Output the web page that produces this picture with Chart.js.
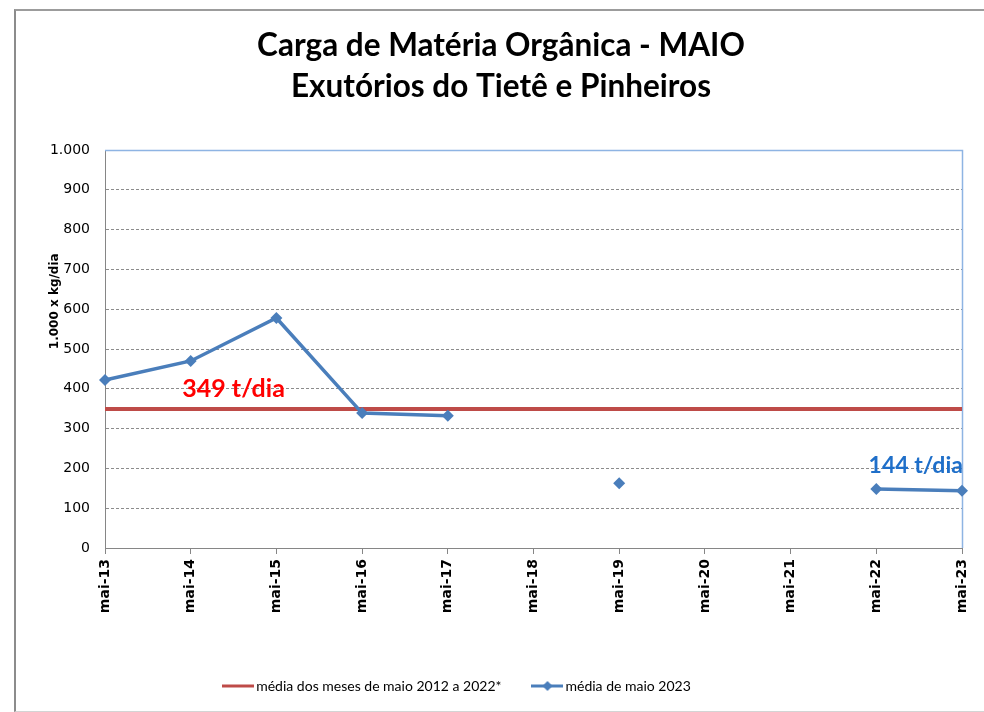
<!DOCTYPE html>
<html>
<head>
<meta charset="utf-8">
<script src="https://cdn.jsdelivr.net/npm/chart.js@4.4.0/dist/chart.umd.min.js"></script>
<style>
  body { margin: 0; background: #fff; }
  #frame { position: absolute; left: 14px; top: 9px; width: 970px; height: 703px; box-sizing: border-box;
    border-left: 2px solid #8c8c8c; border-top: 2px solid #9c9c9c; border-bottom: 1px solid #d4d4d4; }
  canvas { display: block; }
</style>
</head>
<body>
<div id="frame"><canvas id="myChart" width="968" height="700"></canvas></div>
<script>
// data
var categories = ['mai-13', 'mai-14', 'mai-15', 'mai-16', 'mai-17', 'mai-18', 'mai-19', 'mai-20', 'mai-21', 'mai-22', 'mai-23'];
var mediaHistorica = [349, 349, 349, 349, 349, 349, 349, 349, 349, 349, 349];
var media2023 = [422, 470, 578, 339, 332, null, 163, null, null, 148, 144];
var yTickLabels = ['0', '100', '200', '300', '400', '500', '600', '700', '800', '900', '1.000'];
var seriesNames = ['média dos meses de maio 2012 a 2022*', 'média de maio 2023'];
var titleLines = ['Carga de Matéria Orgânica - MAIO', 'Exutórios do Tietê e Pinheiros'];
var yTitle = '1.000 x kg/dia';

// text notes, placed through the scales (x in category index, y in axis units)
var notes = [
  { text: '349 t/dia', at: 1.5, value: 400, color: '#ff0000', size: 25 },
  { text: '144 t/dia', at: 9.46, value: 206, color: '#1f6fc9', size: 23 }
];

var RED = '#be4b48';
var BLUE = '#4a7ebb';

function legendIcon(color, diamond) {
  var c = document.createElement('canvas');
  c.width = 32; c.height = 12;
  var g = c.getContext('2d');
  g.strokeStyle = color;
  g.lineWidth = 3;
  g.beginPath(); g.moveTo(0, 6); g.lineTo(32, 6); g.stroke();
  if (diamond) {
    g.fillStyle = color;
    g.beginPath(); g.moveTo(16, 1); g.lineTo(21, 6); g.lineTo(16, 11); g.lineTo(11, 6); g.closePath(); g.fill();
  }
  return c;
}
var legendIcons = [legendIcon(RED, false), legendIcon(BLUE, true)];

var extras = {
  id: 'extras',
  afterLayout: function(chart) {
    // legend sits a bit left of centre, title a bit right
    chart.legend.left -= 30;
    chart.legend.right -= 30;
    chart.titleBlock.left += 12;
    chart.titleBlock.right += 12;
  },
  beforeDatasetsDraw: function(chart) {
    var ctx = chart.ctx, a = chart.chartArea;
    ctx.save();
    ctx.strokeStyle = '#8eb4e3';
    ctx.lineWidth = 1.5;
    ctx.beginPath();
    ctx.moveTo(a.left, a.top + 0.5);
    ctx.lineTo(a.right + 0.5, a.top + 0.5);
    ctx.lineTo(a.right + 0.5, a.bottom);
    ctx.stroke();
    // y axis title
    ctx.translate(a.left - 50, a.top + (a.bottom - a.top) * 0.38);
    ctx.rotate(-Math.PI / 2);
    ctx.font = 'bold 12px "DejaVu Sans"';
    ctx.fillStyle = '#000';
    ctx.textAlign = 'center';
    ctx.textBaseline = 'middle';
    ctx.fillText(yTitle, 0, 0);
    ctx.restore();
  },
  afterDatasetsDraw: function(chart) {
    var ctx = chart.ctx, x = chart.scales.x, y = chart.scales.y;
    notes.forEach(function(n) {
      ctx.save();
      ctx.font = 'bold ' + n.size + 'px Lato';
      ctx.fillStyle = n.color;
      ctx.textAlign = 'center';
      ctx.textBaseline = 'middle';
      ctx.fillText(n.text, x.getPixelForValue(n.at), y.getPixelForValue(n.value));
      ctx.restore();
    });
  }
};

var ctx = document.getElementById('myChart').getContext('2d');
var chart = new Chart(ctx, {
  type: 'line',
  data: {
    labels: categories,
    datasets: [{
      label: seriesNames[0],
      data: mediaHistorica,
      borderColor: RED,
      backgroundColor: RED,
      borderWidth: 4,
      pointRadius: 0,
      order: 2
    }, {
      label: seriesNames[1],
      data: media2023,
      borderColor: BLUE,
      backgroundColor: BLUE,
      borderWidth: 3.5,
      pointStyle: 'rectRot',
      pointRadius: 6,
      pointBorderWidth: 0,
      pointBackgroundColor: BLUE,
      spanGaps: false,
      clip: false,
      order: 1
    }]
  },
  options: {
    responsive: false,
    animation: false,
    devicePixelRatio: 1,
    layout: { padding: { left: 0, right: 22, top: 0, bottom: 8 } },
    plugins: {
      tooltip: { enabled: false },
      title: {
        display: true,
        text: titleLines,
        color: '#000',
        font: { family: 'Lato', size: 31.5, weight: 'bold', lineHeight: 1.3 },
        padding: { top: 14.5, bottom: 42.6 }
      },
      legend: {
        position: 'bottom',
        labels: {
          usePointStyle: true,
          pointStyleWidth: 22,
          padding: 35,
          color: '#000',
          font: { family: 'Lato', size: 14 },
          sort: function(a, b) { return a.datasetIndex - b.datasetIndex; },
          generateLabels: function(chart) {
            var items = Chart.defaults.plugins.legend.labels.generateLabels(chart);
            items.forEach(function(it) { it.pointStyle = legendIcons[it.datasetIndex]; });
            return items;
          }
        }
      }
    },
    scales: {
      x: {
        type: 'category',
        offset: false,
        grid: { drawOnChartArea: false, drawTicks: true, tickLength: 6, color: '#868686' },
        border: { display: true, color: '#868686', width: 1 },
        ticks: {
          autoSkip: false,
          minRotation: 90,
          maxRotation: 90,
          padding: 5,
          color: '#000',
          font: { family: 'DejaVu Sans', size: 14, weight: 'bold' }
        },
        afterFit: function(scale) { scale.height = 96; }
      },
      y: {
        min: 0,
        max: 1000,
        grid: {
          drawTicks: false,
          lineWidth: 1,
          color: function(c) {
            var v = c.tick ? c.tick.value : 0;
            return (v === 0 || v === 1000) ? 'rgba(0,0,0,0)' : '#8c8c8c';
          }
        },
        border: { display: true, color: '#868686', width: 1, dash: [3, 2] },
        ticks: {
          stepSize: 100,
          padding: 15,
          color: '#000',
          font: { family: 'DejaVu Sans', size: 14 },
          callback: function(value, index) { return yTickLabels[index]; }
        },
        afterFit: function(scale) { scale.width = 89; }
      }
    }
  },
  plugins: [extras]
});
</script>
</body>
</html>
